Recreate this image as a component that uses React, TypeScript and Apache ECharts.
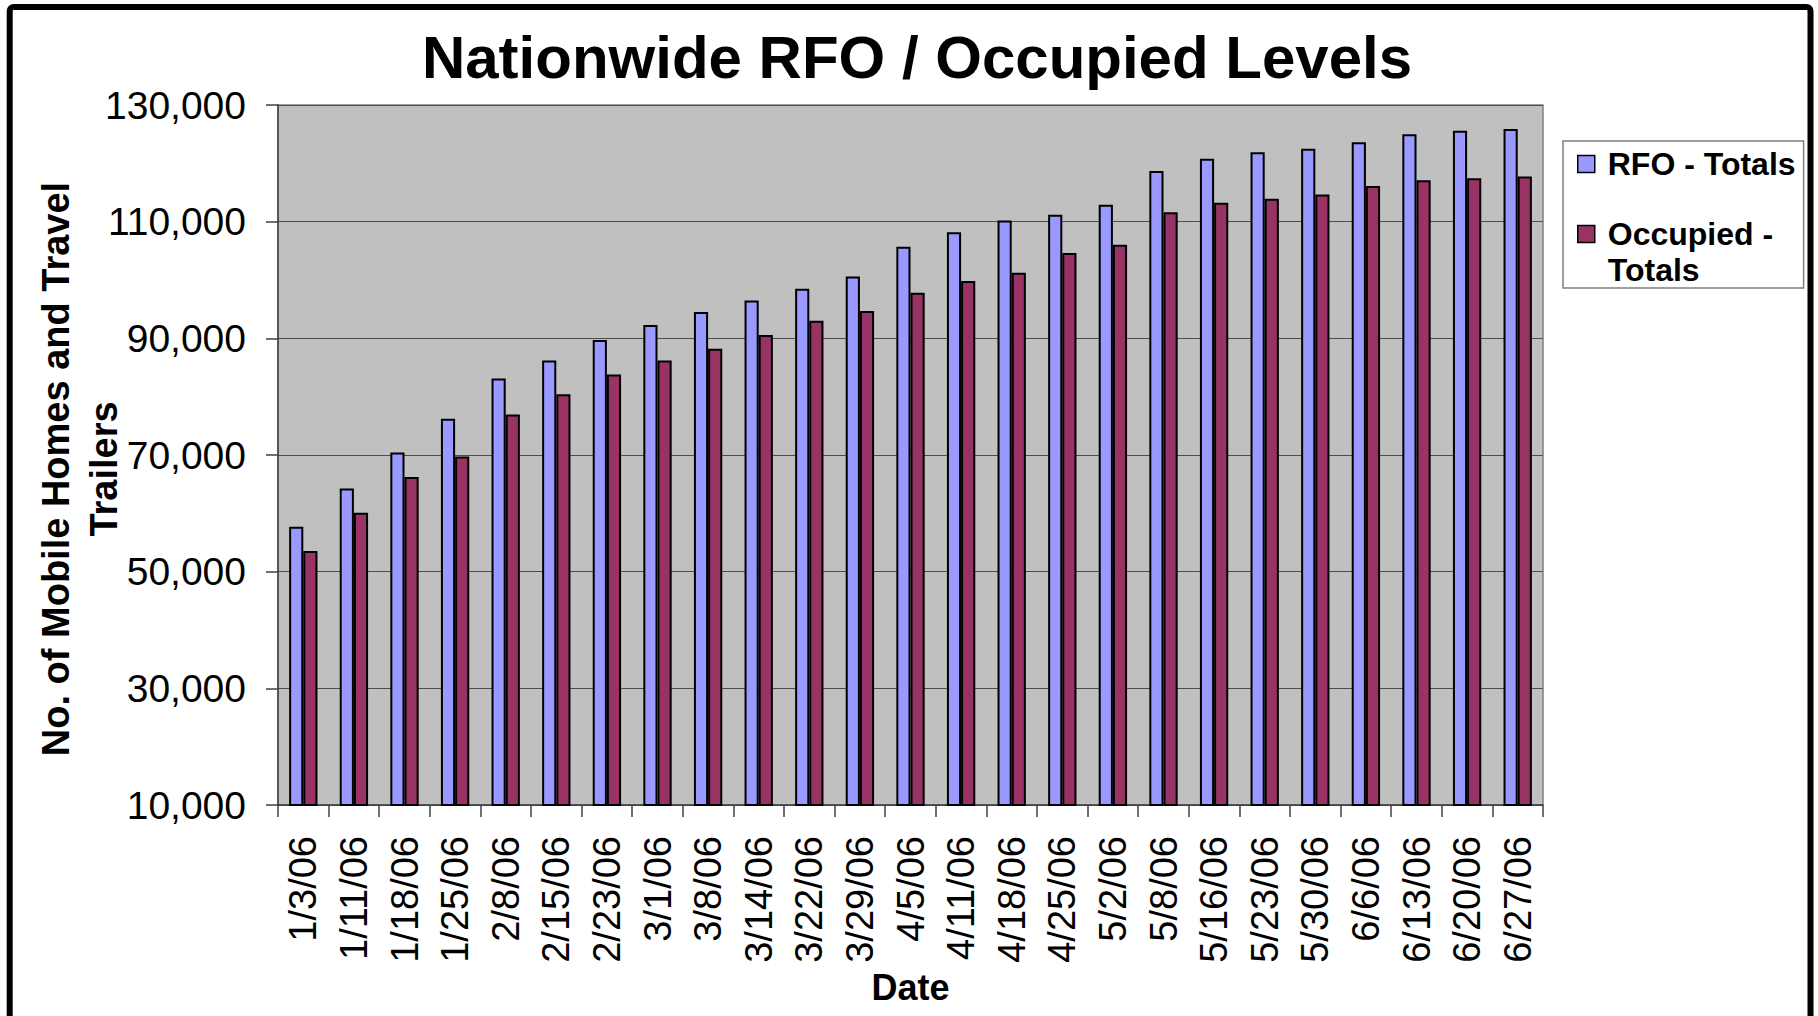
import React, { useEffect, useRef } from "react";
import * as echarts from "echarts";

const categories = [
  "1/3/06", "1/11/06", "1/18/06", "1/25/06", "2/8/06", "2/15/06", "2/23/06",
  "3/1/06", "3/8/06", "3/14/06", "3/22/06", "3/29/06", "4/5/06", "4/11/06",
  "4/18/06", "4/25/06", "5/2/06", "5/8/06", "5/16/06", "5/23/06", "5/30/06",
  "6/6/06", "6/13/06", "6/20/06", "6/27/06",
];

const rfoTotals = [
  57700, 64250, 70450, 76200, 83100, 86200, 89700, 92300, 94500, 96500,
  98500, 100600, 105700, 108200, 110200, 111200, 112900, 118700, 120800,
  121900, 122500, 123600, 125000, 125600, 125900,
];

const occupiedTotals = [
  53550, 60100, 66250, 69750, 76950, 80400, 83800, 86200, 88200, 90580,
  93000, 94700, 97800, 99850, 101250, 104650, 106050, 111600, 113250,
  113950, 114650, 116100, 117100, 117450, 117750,
];

const yMin = 10000;
const yMax = 130000;
const yStep = 20000;

const FONT = "'Liberation Sans', Arial, Helvetica, sans-serif";

export default function App() {
  const ref = useRef<HTMLDivElement>(null);

  useEffect(() => {
    if (!ref.current) return;
    const chart = echarts.init(ref.current, undefined, { renderer: "svg" });
    chart.setOption({
      animation: false,
      backgroundColor: "#ffffff",
      textStyle: { fontFamily: FONT },
      title: {
        text: "Nationwide RFO / Occupied Levels",
        left: 912,
        top: 22,
        textAlign: "center",
        textStyle: {
          fontFamily: FONT,
          fontSize: 60,
          fontWeight: "bold",
          color: "#000",
        },
      },
      graphic: [
        {
          type: "rect",
          shape: { x: 9.7, y: 7, width: 1800.8, height: 1100, r: 4 },
          style: { fill: "none", stroke: "#000", lineWidth: 6 },
          silent: true,
          z: 100,
        },
      ],
      legend: {
        orient: "vertical",
        left: 1563,
        top: 141,
        padding: [5, 8, 0, 14],
        itemGap: -2,
        itemWidth: 17,
        itemHeight: 17,
        backgroundColor: "#ffffff",
        borderColor: "#7f7f7f",
        borderWidth: 1.5,
        icon: "rect",
        itemStyle: { borderColor: "#000", borderWidth: 1.5 },
        textStyle: {
          fontFamily: FONT,
          fontSize: 32,
          fontWeight: "bold",
          color: "#000",
          lineHeight: 36,
          padding: [0, 0, 0, 8],
        },
        data: ["RFO - Totals", "Occupied - Totals"],
        formatter: (name: string) =>
          name === "Occupied - Totals" ? "\nOccupied -\nTotals" : name,
      },
      grid: {
        left: 278,
        right: 275,
        top: 105,
        bottom: 211,
        show: true,
        backgroundColor: "#c0c0c0",
        borderColor: "#808080",
        borderWidth: 1.5,
      },
      xAxis: {
        type: "category",
        data: categories,
        boundaryGap: true,
        name: "Date",
        nameLocation: "middle",
        nameGap: 164,
        nameMoveOverlap: false,
        nameTextStyle: {
          fontFamily: FONT,
          fontSize: 36,
          fontWeight: "bold",
          color: "#000",
          lineHeight: 36,
        },
        axisLine: { show: true, lineStyle: { color: "#404040", width: 1.5 } },
        axisTick: {
          show: true,
          inside: false,
          length: 12,
          interval: 0,
          alignWithLabel: false,
          lineStyle: { color: "#404040", width: 1.5 },
        },
        axisLabel: {
          interval: 0,
          rotate: 90,
          margin: 31,
          fontFamily: FONT,
          fontSize: 38,
          color: "#000",
        },
        splitLine: { show: false },
      },
      yAxis: {
        type: "value",
        min: yMin,
        max: yMax,
        interval: yStep,
        name: "No. of Mobile Homes and Travel\nTrailers",
        nameLocation: "middle",
        nameRotate: 90,
        nameGap: 150,
        nameMoveOverlap: false,
        nameTextStyle: {
          fontFamily: FONT,
          fontSize: 38,
          fontWeight: "bold",
          color: "#000",
          lineHeight: 48,
          padding: [0, 28, 0, 0],
        },
        axisLine: { show: true, lineStyle: { color: "#404040", width: 1.5 } },
        axisTick: {
          show: true,
          inside: false,
          length: 12,
          lineStyle: { color: "#404040", width: 1.5 },
        },
        axisLabel: {
          margin: 32,
          fontFamily: FONT,
          fontSize: 39,
          color: "#000",
        },
        splitLine: { show: true, lineStyle: { color: "#4d4d4d", width: 1 } },
      },
      series: [
        {
          name: "RFO - Totals",
          type: "bar",
          data: rfoTotals,
          barGap: "0%",
          barCategoryGap: "44%",
          itemStyle: { color: "#9999ff", borderColor: "#000", borderWidth: 2 },
        },
        {
          name: "Occupied - Totals",
          type: "bar",
          data: occupiedTotals,
          barGap: "0%",
          barCategoryGap: "44%",
          itemStyle: { color: "#993366", borderColor: "#000", borderWidth: 2 },
        },
      ],
    });
    return () => chart.dispose();
  }, []);

  return (
    <div
      ref={ref}
      style={{
        position: "fixed",
        left: 0,
        top: 0,
        width: 1818,
        height: 1016,
        background: "#fff",
      }}
    />
  );
}
